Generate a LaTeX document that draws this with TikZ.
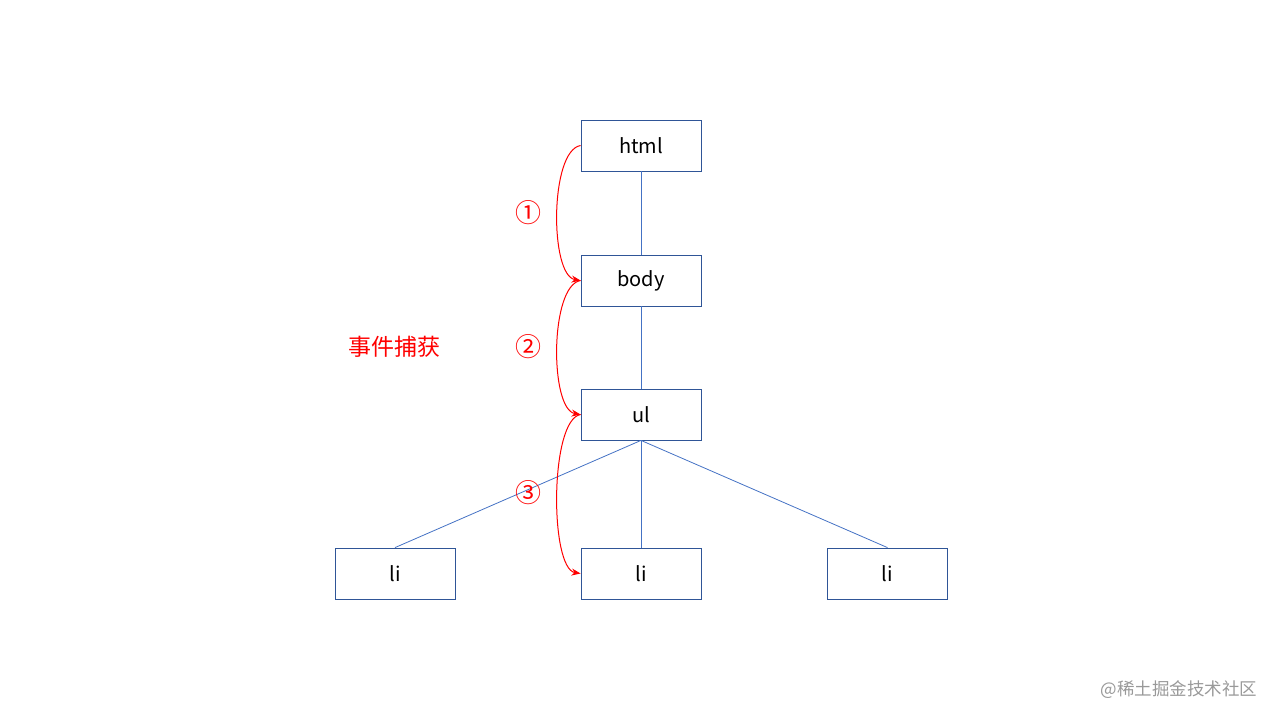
\documentclass[tikz,border=0pt]{standalone}
\usepackage{fontspec}
\setmainfont{Noto Sans CJK SC}
\usetikzlibrary{arrows.meta}
\definecolor{boxblue}{HTML}{2F5597}
\definecolor{lineblue}{HTML}{4472C4}
\definecolor{evred}{HTML}{FF0000}
\tikzset{
  treebox/.style={draw=boxblue, line width=0.8pt, minimum width=120pt, minimum height=51pt, inner sep=0pt, font=\fontsize{20}{24}\selectfont},
  treeline/.style={draw=lineblue, line width=0.8pt},
  evarrow/.style={draw=evred, line width=1pt, -{Stealth[length=9pt,width=7pt]}},
  evnum/.style={text=evred, font=\fontsize{26}{30}\selectfont},
}
\begin{document}
\begin{tikzpicture}[x=1pt,y=-1pt]
\useasboundingbox (0,0) rectangle (1280,720);
\node[treebox] (html) at (641,145.5) {html};
\node[treebox] (body) at (641,280.5) {body};
\node[treebox] (ul) at (641,414.5) {ul};
\node[treebox] (li1) at (395,573.5) {li};
\node[treebox] (li2) at (641,573.5) {li};
\node[treebox] (li3) at (887.5,573.5) {li};
\draw[treeline] (html.south) -- (body.north);
\draw[treeline] (body.south) -- (ul.north);
\draw[treeline] (ul.south) -- (li1.north);
\draw[treeline] (ul.south) -- (li2.north);
\draw[treeline] (ul.south) -- (li3.north);
\draw[evarrow] (html.west) .. controls +(-31,5) and +(-31,-5) .. (body.west);
\draw[evarrow] (body.west) .. controls +(-31,5) and +(-31,-5) .. (ul.west);
\draw[evarrow] (ul.west) .. controls +(-31,5) and +(-31,-5) .. (li2.west);
\node[evnum] (n1) at (528,213) {①};
\node[evnum] (n2) at (528,347) {②};
\node[evnum] (n3) at (528,493) {③};
\node[text=evred, font=\fontsize{23}{27}\selectfont] (cap) at (394,347) {事件捕获};
\node[text=black!40, font=\fontsize{17.5}{20}\selectfont, anchor=east] (wm) at (1261,690) {@稀土掘金技术社区};
\end{tikzpicture}
\end{document}
